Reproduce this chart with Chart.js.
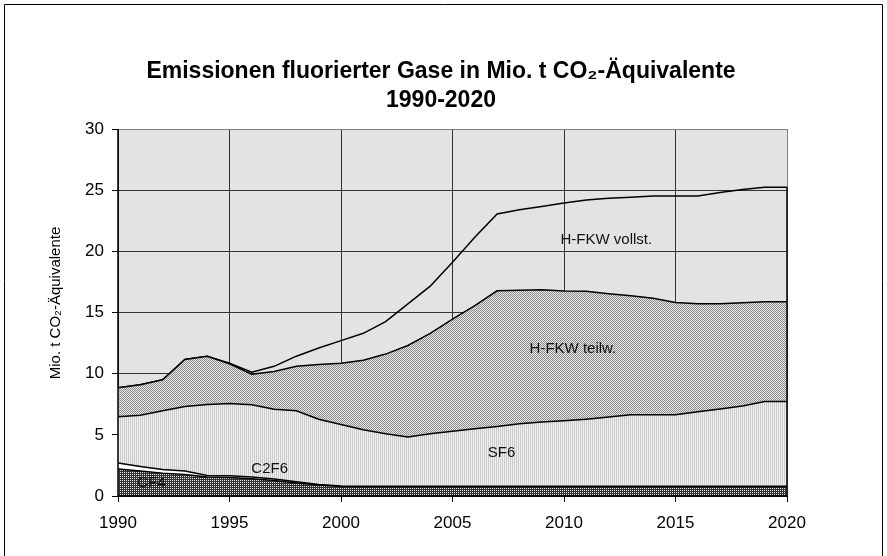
<!DOCTYPE html>
<html>
<head>
<meta charset="utf-8">
<script src="https://cdn.jsdelivr.net/npm/chart.js@4.4.1/dist/chart.umd.min.js"></script>
<style>
  html, body { margin: 0; padding: 0; background: #fff; }
  canvas { display: block; }
</style>
</head>
<body>
<canvas id="chart" width="887" height="556"></canvas>
<script>
// Emissionen fluorierter Gase, Mio. t CO2-Äquivalente
const years = [1990, 1991, 1992, 1993, 1994, 1995, 1996, 1997, 1998, 1999,
               2000, 2001, 2002, 2003, 2004, 2005, 2006, 2007, 2008, 2009,
               2010, 2011, 2012, 2013, 2014, 2015, 2016, 2017, 2018, 2019, 2020];

const cf4 = [2.20, 2.04, 1.87, 1.76, 1.55, 1.52, 1.41, 1.27, 1.06, 0.89,
             0.78, 0.75, 0.75, 0.75, 0.75, 0.75, 0.75, 0.75, 0.75, 0.75,
             0.75, 0.75, 0.75, 0.75, 0.75, 0.75, 0.75, 0.75, 0.75, 0.75, 0.75];
const c2f6 = [0.49, 0.38, 0.30, 0.28, 0.13, 0.14, 0.14, 0.11, 0.11, 0.06,
              0.03, 0.05, 0.05, 0.05, 0.05, 0.05, 0.05, 0.05, 0.05, 0.05,
              0.05, 0.05, 0.05, 0.05, 0.05, 0.05, 0.05, 0.05, 0.05, 0.05, 0.05];
const sf6 = [3.79, 4.19, 4.80, 5.28, 5.80, 5.90, 5.91, 5.72, 5.80, 5.33,
             5.04, 4.61, 4.29, 4.02, 4.29, 4.50, 4.70, 4.89, 5.10, 5.24,
             5.35, 5.48, 5.65, 5.84, 5.84, 5.84, 6.08, 6.32, 6.56, 6.92, 6.92];
const hfkwTeilw = [2.37, 2.48, 2.53, 3.84, 3.95, 3.24, 2.49, 3.08, 3.63, 4.47,
                   5.01, 5.69, 6.51, 7.48, 8.21, 9.15, 10.07, 11.08, 10.92, 10.81,
                   10.60, 10.46, 10.08, 9.72, 9.53, 9.18, 8.83, 8.59, 8.43, 8.15, 8.15];
const hfkwVollst = [0, 0, 0, 0, 0, 0.05, 0.17, 0.42, 0.83, 1.35,
                    1.84, 2.20, 2.66, 3.40, 3.85, 4.65, 5.58, 6.29, 6.58, 6.81,
                    7.20, 7.46, 7.81, 8.06, 8.36, 8.71, 8.82, 9.09, 9.26, 9.37, 9.37];

const yTicks = [0, 5, 10, 15, 20, 25, 30];
const xTicks = [1990, 1995, 2000, 2005, 2010, 2015, 2020];

const titleLines = ['Emissionen fluorierter Gase in Mio. t CO\u2082-Äquivalente', '1990-2020'];
const yTitle = 'Mio. t CO\u2082-Äquivalente';

// text inside the areas, placed in data units
const areaLabels = [
    { text: 'H-FKW vollst.', x: 2011.9, y: 20.9 },
    { text: 'H-FKW teilw.', x: 2010.4, y: 12.0 },
    { text: 'SF6', x: 2007.2, y: 3.5 },
    { text: 'C2F6', x: 1996.8, y: 2.2 },
    { text: 'CF4', x: 1991.5, y: 1.05 }
];

const FONT = "'Liberation Sans', Arial, sans-serif";

function makePattern(rows) {
    const c = document.createElement('canvas');
    c.width = rows[0].length;
    c.height = rows.length;
    const g = c.getContext('2d');
    rows.forEach((row, y) => row.forEach((col, x) => {
        g.fillStyle = col;
        g.fillRect(x, y, 1, 1);
    }));
    return g.createPattern(c, 'repeat');
}

const patCF4 = makePattern([['#e6e6e6', '#333333'], ['#333333', '#333333']]);
const patSF6 = makePattern([['#cdcdcd', '#eeeeee']]);
const patTeilw = makePattern([['#8c8c8c', '#e8e8e8'], ['#e8e8e8', '#8c8c8c']]);

function pts(values) {
    return values.map((v, i) => ({ x: years[i], y: v }));
}

const frame = {
    id: 'frame',
    beforeDraw(chart) {
        const { ctx, chartArea: a } = chart;
        ctx.save();
        ctx.fillStyle = '#fff';
        ctx.fillRect(0, 0, chart.width, chart.height);
        ctx.fillStyle = '#e3e3e3';
        ctx.fillRect(a.left, a.top, a.right - a.left, a.bottom - a.top);
        ctx.restore();
    },
    afterDraw(chart) {
        const ctx = chart.ctx;
        ctx.save();
        ctx.strokeStyle = '#000';
        ctx.lineWidth = 1;
        ctx.beginPath();
        ctx.moveTo(4.5, 600);
        ctx.lineTo(4.5, 4.5);
        ctx.lineTo(882.5, 4.5);
        ctx.lineTo(882.5, 600);
        ctx.stroke();

        // chart title
        ctx.fillStyle = '#000';
        ctx.textAlign = 'center';
        ctx.textBaseline = 'middle';
        ctx.font = 'bold 23px ' + FONT;
        ctx.fillText(titleLines[0], 441, 72);
        ctx.fillText(titleLines[1], 441, 101);

        // y axis title
        ctx.font = '15px ' + FONT;
        ctx.translate(56, 303);
        ctx.rotate(-Math.PI / 2);
        ctx.fillText(yTitle, 0, 0);
        ctx.restore();
    }
};

const axisLines = {
    id: 'axisLines',
    afterDatasetsDraw(chart) {
        const { ctx, chartArea: a, scales } = chart;
        const last = years.length - 1;
        const top = cf4[last] + c2f6[last] + sf6[last] + hfkwTeilw[last] + hfkwVollst[last];
        const yTop = scales.y.getPixelForValue(top);
        ctx.save();
        ctx.strokeStyle = '#000';
        ctx.lineWidth = 1.5;
        ctx.beginPath();
        ctx.moveTo(a.left, a.top);
        ctx.lineTo(a.left, a.bottom);
        ctx.lineTo(a.right, a.bottom);
        ctx.moveTo(a.right, yTop);
        ctx.lineTo(a.right, a.bottom);
        ctx.stroke();

        ctx.fillStyle = '#111';
        ctx.font = '15px ' + FONT;
        ctx.textAlign = 'center';
        ctx.textBaseline = 'middle';
        areaLabels.forEach(l => {
            ctx.fillText(l.text, scales.x.getPixelForValue(l.x), scales.y.getPixelForValue(l.y));
        });
        ctx.restore();
    }
};

const lineStyle = { borderColor: '#000', borderWidth: 1.5, pointRadius: 0, tension: 0 };

new Chart(document.getElementById('chart'), {
    type: 'line',
    data: {
        datasets: [
            { label: 'CF4', data: pts(cf4), backgroundColor: patCF4, fill: 'origin', ...lineStyle },
            { label: 'C2F6', data: pts(c2f6), backgroundColor: '#ffffff', fill: '-1', ...lineStyle },
            { label: 'SF6', data: pts(sf6), backgroundColor: patSF6, fill: '-1', ...lineStyle },
            { label: 'H-FKW teilw.', data: pts(hfkwTeilw), backgroundColor: patTeilw, fill: '-1', ...lineStyle },
            { label: 'H-FKW vollst.', data: pts(hfkwVollst), fill: false, ...lineStyle }
        ]
    },
    options: {
        responsive: false,
        animation: false,
        devicePixelRatio: 1,
        layout: { padding: { left: 0, right: 100, top: 129, bottom: 0 } },
        plugins: {
            legend: { display: false },
            tooltip: { enabled: false },
            title: { display: false }
        },
        scales: {
            x: {
                type: 'linear',
                min: 1990,
                max: 2020,
                afterFit(scale) { scale.height = 60; },
                afterBuildTicks(scale) { scale.ticks = xTicks.map(v => ({ value: v })); },
                grid: {
                    color: ctx => ctx.tick && ctx.tick.value === 2020 ? '#808080' : '#333',
                    lineWidth: 1,
                    tickLength: 6,
                    tickColor: '#000'
                },
                border: { display: false },
                ticks: {
                    color: '#000',
                    font: { family: FONT, size: 17 },
                    padding: 11,
                    maxRotation: 0,
                    callback: v => String(v)
                }
            },
            y: {
                stacked: true,
                min: 0,
                max: 30,
                afterFit(scale) { scale.width = 118; },
                afterBuildTicks(scale) { scale.ticks = yTicks.map(v => ({ value: v })); },
                grid: {
                    color: ctx => ctx.tick && ctx.tick.value === 30 ? '#808080' : '#333',
                    lineWidth: 1,
                    tickLength: 6,
                    tickColor: '#000'
                },
                border: { display: false },
                ticks: {
                    color: '#000',
                    font: { family: FONT, size: 17 },
                    padding: 8
                }
            }
        }
    },
    plugins: [frame, axisLines]
});
</script>
</body>
</html>
